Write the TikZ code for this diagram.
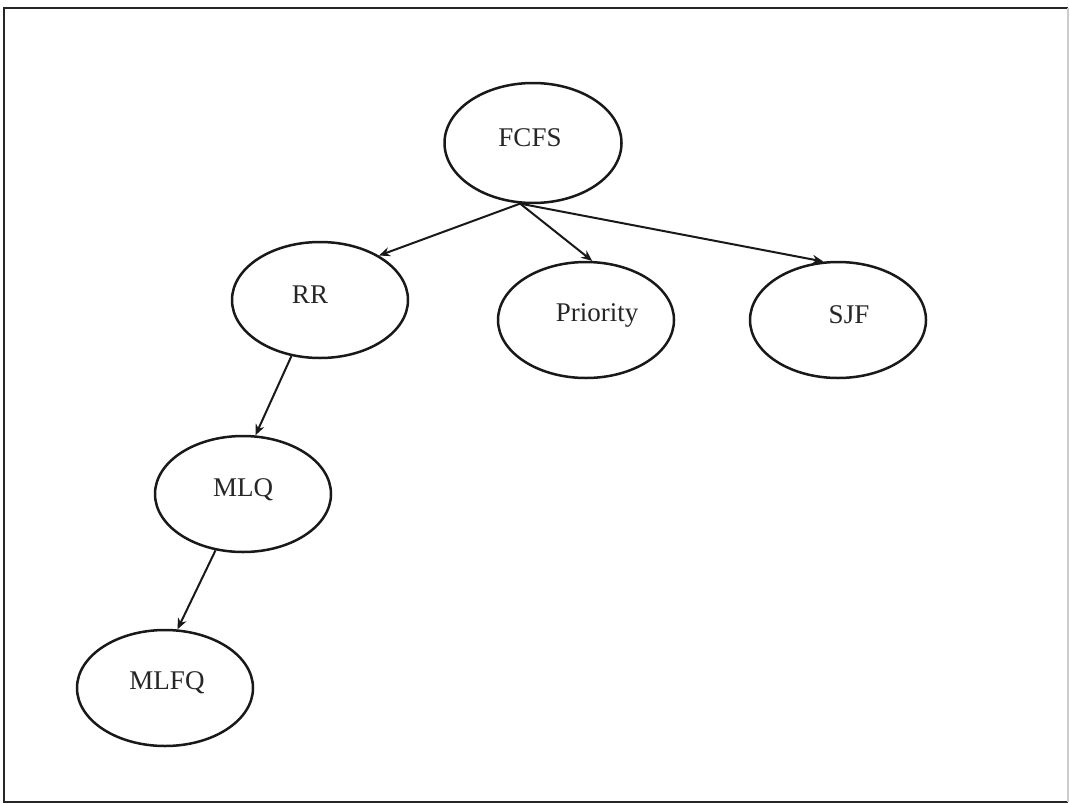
\documentclass[tikz,border=0pt]{standalone}
\usepackage{fontspec}
\setmainfont{Liberation Serif}
\usetikzlibrary{arrows.meta,calc,shapes.geometric}
\begin{document}
\begin{tikzpicture}[x=0.5pt,y=-0.5pt,
  st/.style={draw=black!90,line width=1.25pt,ellipse,minimum width=88pt,minimum height=58pt,inner sep=0pt},
  lbl/.style={inner sep=0pt,font=\fontsize{13.5}{16}\selectfont,text=black!85},
  arr/.style={draw=black!90,line width=1pt,-{Stealth[length=5.5pt,width=4.6pt]}}]
\useasboundingbox (0,0) rectangle (1070,803);
\fill[white] (0,0) rectangle (1070,803);
\draw[black!85,line width=1.2pt] (1068,8) -- (4,8) -- (4,802) -- (1068,802);
\draw[black!20,line width=0.6pt] (1068,8) -- (1068,802);
\node[st,minimum width=88.5pt,minimum height=60pt] (FCFS) at (533,143) {};
\node[st] (RR) at (320,300) {};
\node[st] (PRI) at (586,320) {};
\node[st] (SJF) at (838,320) {};
\node[st] (MLQ) at (243,494) {};
\node[st] (MLFQ) at (165,688) {};
\node[lbl] (tFCFS) at (530,138) {FCFS};
\node[lbl] (tRR) at (310,295) {RR};
\node[lbl] (tPRI) at (597,315) {Priority};
\node[lbl] (tSJF) at (849,315) {SJF};
\node[lbl] (tMLQ) at (243,490) {MLQ};
\node[lbl] (tMLFQ) at (167,683) {MLFQ};
\coordinate (src) at (FCFS.258);
\draw[arr] (src) -- (RR.37);
\draw[arr] (src) -- (PRI.84);
\draw[arr] (src) -- (SJF.104);
\draw[arr] (RR.243) -- (MLQ.78);
\draw[arr] (MLQ.244) -- (MLFQ.78);
\end{tikzpicture}
\end{document}
